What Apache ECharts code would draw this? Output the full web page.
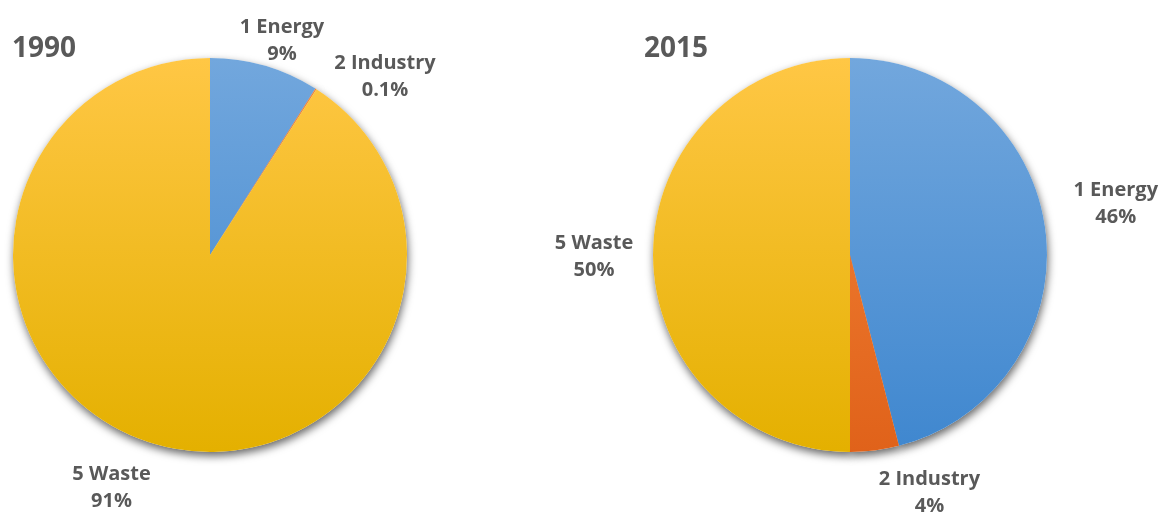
<!DOCTYPE html>
<html>
<head>
    <meta charset="UTF-8">
    <title>1990 vs 2015</title>
    <script src="https://cdn.jsdelivr.net/npm/echarts@6/dist/echarts.min.js"></script>
</head>
<body style="margin:0;background:#fff;">
<div id="main" style="width: 1171px;height:514px;"></div>
<script type="text/javascript">
    // 数据
    let categories = ['1 Energy', '2 Industry', '5 Waste'];
    let values1990 = [9, 0.1, 91];
    let values2015 = [46, 4, 50];
    let years = ['1990', '2015'];

    // 标签位置 [角度(顺时针, 从12点起), 到圆心距离]
    let labelSpots1990 = [[18.4, 228], [44.2, 251], [203.1, 251]];
    let labelSpots2015 = [[78.7, 271], [161.4, 249], [270, 256]];

    let centers = [[210, 255], [850, 255]];
    let R = 197;

    function grad(top, bottom) {
        return {
            type: 'linear', x: 0, y: 58, x2: 0, y2: 452, global: true,
            colorStops: [{offset: 0, color: top}, {offset: 1, color: bottom}]
        };
    }
    let sliceColors = [
        grad('#72a7dd', '#3f87cf'),
        grad('#f4863a', '#e0621a'),
        grad('#ffc745', '#e4b000')
    ];

    function toData(vals) {
        return vals.map((v, i) => ({name: categories[i], value: v, itemStyle: {color: sliceColors[i]}}));
    }

    function makeLayout(spots, c) {
        return function (p) {
            let s = spots[p.dataIndex];
            let a = s[0] * Math.PI / 180;
            return {
                x: c[0] + s[1] * Math.sin(a),
                y: c[1] - s[1] * Math.cos(a) + 2,
                align: 'center',
                verticalAlign: 'middle'
            };
        };
    }

    let labelStyle = {
        show: true,
        position: 'outside',
        formatter: '{b}\n{c}%',
        fontFamily: 'Open Sans',
        fontWeight: 'bold',
        fontSize: 20,
        lineHeight: 27,
        color: '#595959',
        align: 'center',
        overflow: 'none',
        width: 140
    };

    // 阴影底盘
    function shadowSeries(vals, c) {
        return {
            type: 'pie',
            silent: true,
            center: c,
            radius: R,
            z: 1,
            label: {show: false},
            labelLine: {show: false},
            itemStyle: {
                color: '#ffffff',
                shadowBlur: 8,
                shadowOffsetX: 1,
                shadowOffsetY: 4,
                shadowColor: 'rgba(0,0,0,0.6)'
            },
            data: vals.map((v, i) => ({name: categories[i], value: v}))
        };
    }

    function mainSeries(vals, c, spots) {
        return {
            type: 'pie',
            center: c,
            radius: R,
            z: 2,
            label: labelStyle,
            labelLine: {show: false},
            labelLayout: makeLayout(spots, c),
            itemStyle: {borderWidth: 0},
            data: toData(vals)
        };
    }

    var myChart = echarts.init(document.getElementById('main'));

    let option = {
        animation: false,
        backgroundColor: '#ffffff',
        title: [
            {
                text: years[0], left: 12, top: 35, padding: 0,
                textStyle: {fontFamily: 'Open Sans', fontWeight: 'bold', fontSize: 28, color: '#595959'}
            },
            {
                text: years[1], left: 644, top: 35, padding: 0,
                textStyle: {fontFamily: 'Open Sans', fontWeight: 'bold', fontSize: 28, color: '#595959'}
            }
        ],
        series: [
            shadowSeries(values1990, centers[0]),
            shadowSeries(values2015, centers[1]),
            mainSeries(values1990, centers[0], labelSpots1990),
            mainSeries(values2015, centers[1], labelSpots2015)
        ]
    };

    myChart.setOption(option);
</script>
</body>
</html>
